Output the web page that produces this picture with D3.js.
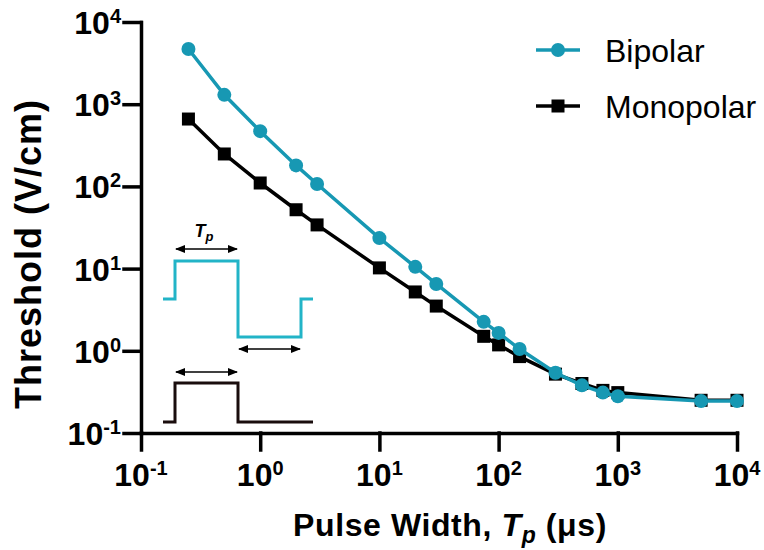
<!DOCTYPE html>
<html>
<head>
<meta charset="utf-8">
<script src="https://cdn.jsdelivr.net/npm/d3@7"></script>
<style>
  body { margin: 0; background: #fff; }
  text { font-family: "Liberation Sans", Arial, sans-serif; }
</style>
</head>
<body>
<div class="container"></div>
<script>
// pulse widths in microseconds
var pulseWidths = [0.25, 0.5, 1, 2, 3, 10, 20, 30, 75, 100, 150, 300, 500, 750, 1000, 5000, 10000];
var bipolar = [4700, 1300, 470, 180, 107, 23.5, 10.5, 6.5, 2.25, 1.65, 1.05, 0.54, 0.38, 0.31, 0.28, 0.245, 0.245];
var monopolar = [660, 248, 110, 52, 34, 10.2, 5.2, 3.5, 1.5, 1.18, 0.85, 0.52, 0.40, 0.33, 0.31, 0.25, 0.25];
var xTicks = [0.1, 1, 10, 100, 1000, 10000];
var yTicks = [0.1, 1, 10, 100, 1000, 10000];
var tickExponents = ['-1', '0', '1', '2', '3', '4'];
var seriesNames = ['Bipolar', 'Monopolar'];

var drawChart = function () {
    const TEAL = '#1798b3';
    const INSET_TEAL = '#22b4c7';
    const TICK = 17;

    var svg = d3.select('.container')
        .append('svg')
        .attr('width', 764)
        .attr('height', 550);

    var x = d3.scaleLog().domain([0.1, 10000]).range([141, 737]);
    var y = d3.scaleLog().domain([0.1, 10000]).range([433, 22]);

    // axes
    var xAxis = svg.append('g')
        .attr('transform', 'translate(0,' + y(0.1) + ')')
        .call(d3.axisBottom(x).tickValues(xTicks).tickSize(TICK).tickSizeOuter(0).tickFormat(''));
    var yAxis = svg.append('g')
        .attr('transform', 'translate(' + x(0.1) + ',0)')
        .call(d3.axisLeft(y).tickValues(yTicks).tickSize(TICK).tickSizeOuter(0).tickFormat(''));

    [xAxis, yAxis].forEach(function (a) {
        a.selectAll('path, line')
            .style('stroke', '#000')
            .style('stroke-width', 3.5)
            .style('stroke-linecap', 'square');
    });

    // tick labels with superscripts
    xTicks.forEach(function (t, i) {
        var lbl = svg.append('text')
            .attr('x', x(t))
            .attr('y', 486)
            .attr('text-anchor', 'middle')
            .style('font-size', '32px')
            .style('font-weight', 'bold');
        lbl.append('tspan').text('10');
        lbl.append('tspan').attr('dy', -11).style('font-size', '20px').text(tickExponents[i]);
    });
    yTicks.forEach(function (t, i) {
        var lbl = svg.append('text')
            .attr('x', 121)
            .attr('y', y(t) + 12)
            .attr('text-anchor', 'end')
            .style('font-size', '32px')
            .style('font-weight', 'bold');
        lbl.append('tspan').text('10');
        lbl.append('tspan').attr('dy', -11).style('font-size', '20px').text(tickExponents[i]);
    });

    // axis titles
    var xTitle = svg.append('text')
        .attr('x', 450)
        .attr('y', 536)
        .attr('text-anchor', 'middle')
        .style('font-size', '32px')
        .style('font-weight', 'bold')
        .style('letter-spacing', '0.6px');
    xTitle.append('tspan').text('Pulse Width, ');
    xTitle.append('tspan').style('font-style', 'italic').text('T');
    xTitle.append('tspan').attr('dy', 7).style('font-style', 'italic').style('font-size', '23px').text('p');
    xTitle.append('tspan').attr('dy', -7).text(' (\u03bcs)');

    svg.append('text')
        .attr('transform', 'translate(41,254) rotate(-90)')
        .attr('text-anchor', 'middle')
        .style('font-size', '36px')
        .style('font-weight', 'bold')
        .style('letter-spacing', '1px')
        .text('Threshold (V/cm)');

    // data lines
    var line = function (vals) {
        return d3.line()
            .x(function (d, i) { return x(pulseWidths[i]); })
            .y(function (d) { return y(d); })(vals);
    };

    svg.append('path')
        .attr('d', line(monopolar))
        .style('fill', 'none')
        .style('stroke', '#000')
        .style('stroke-width', 3.5);
    svg.append('g')
        .selectAll('rect')
        .data(monopolar)
        .enter()
        .append('rect')
        .attr('x', function (d, i) { return x(pulseWidths[i]) - 6.5; })
        .attr('y', function (d) { return y(d) - 6.5; })
        .attr('width', 13)
        .attr('height', 13)
        .style('fill', '#000');

    svg.append('path')
        .attr('d', line(bipolar))
        .style('fill', 'none')
        .style('stroke', TEAL)
        .style('stroke-width', 3.5);
    svg.append('g')
        .selectAll('circle')
        .data(bipolar)
        .enter()
        .append('circle')
        .attr('cx', function (d, i) { return x(pulseWidths[i]); })
        .attr('cy', function (d) { return y(d); })
        .attr('r', 7)
        .style('fill', TEAL);

    // legend
    var legend = svg.append('g');
    seriesNames.forEach(function (name, i) {
        var ly = 50 + i * 56;
        var col = i === 0 ? TEAL : '#000';
        legend.append('line')
            .attr('x1', 536).attr('x2', 580)
            .attr('y1', ly).attr('y2', ly)
            .style('stroke', col)
            .style('stroke-width', 3.5);
        if (i === 0) {
            legend.append('circle').attr('cx', 558).attr('cy', ly).attr('r', 7).style('fill', col);
        } else {
            legend.append('rect').attr('x', 551.5).attr('y', ly - 6.5).attr('width', 13).attr('height', 13).style('fill', col);
        }
        legend.append('text')
            .attr('x', 605)
            .attr('y', ly + 12)
            .style('font-size', '32px')
            .text(name);
    });

    // waveform inset
    var defs = svg.append('defs');
    defs.append('marker')
        .attr('id', 'arrow')
        .attr('viewBox', '0 0 10 10')
        .attr('refX', 9).attr('refY', 5)
        .attr('markerWidth', 7).attr('markerHeight', 7)
        .attr('orient', 'auto-start-reverse')
        .append('path')
        .attr('d', 'M0,1 L10,5 L0,9 Z')
        .style('fill', '#000');

    var inset = svg.append('g');
    inset.append('polyline')
        .attr('points', '163,299 175,299 175,261 238,261 238,337 301,337 301,299 313,299')
        .style('fill', 'none')
        .style('stroke', INSET_TEAL)
        .style('stroke-width', 3);
    inset.append('polyline')
        .attr('points', '163,422 175,422 175,383 238,383 238,422 313,422')
        .style('fill', 'none')
        .style('stroke', '#1a0d0d')
        .style('stroke-width', 3);

    [[175, 238, 249], [238, 301, 349], [175, 238, 372]].forEach(function (a) {
        inset.append('line')
            .attr('x1', a[0] + 1).attr('x2', a[1] - 1)
            .attr('y1', a[2]).attr('y2', a[2])
            .attr('marker-start', 'url(#arrow)')
            .attr('marker-end', 'url(#arrow)')
            .style('stroke', '#000')
            .style('stroke-width', 1.5);
    });

    var tp = inset.append('text')
        .attr('x', 204)
        .attr('y', 237)
        .attr('text-anchor', 'middle')
        .style('font-size', '18px')
        .style('font-weight', 'bold')
        .style('font-style', 'italic');
    tp.append('tspan').text('T');
    tp.append('tspan').attr('dy', 4).style('font-size', '13px').text('p');
};
window.onload = drawChart;
</script>
</body>
</html>
